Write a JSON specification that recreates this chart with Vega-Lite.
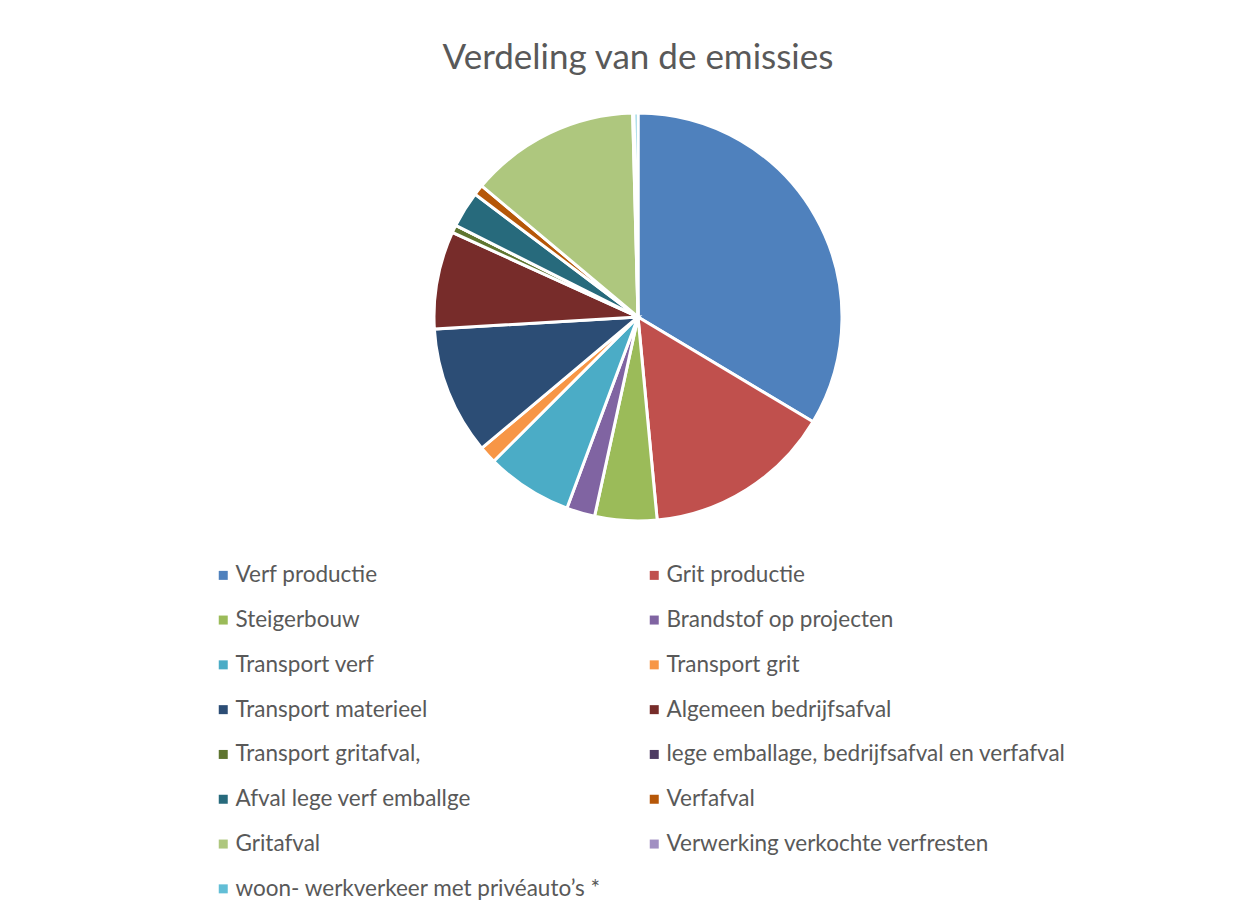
{
  "$schema": "https://vega.github.io/schema/vega-lite/v6.json",
  "width": 1236,
  "height": 434,
  "autosize": {"type": "none"},
  "padding": {"left": 20, "top": 100, "right": 0, "bottom": 382},
  "background": "white",
  "title": {
    "text": "Verdeling van de emissies",
    "font": "Lato",
    "fontSize": 35,
    "fontWeight": "normal",
    "color": "#595959",
    "anchor": "middle",
    "baseline": "bottom",
    "offset": -11
  },
  "data": {
    "values": [
      {"i": 1, "cat": "Verf productie", "v": 120.9},
      {"i": 2, "cat": "Grit productie", "v": 53.7},
      {"i": 3, "cat": "Steigerbouw", "v": 17.7},
      {"i": 4, "cat": "Brandstof op projecten", "v": 8.1},
      {"i": 5, "cat": "Transport verf", "v": 24.6},
      {"i": 6, "cat": "Transport grit", "v": 5.0},
      {"i": 7, "cat": "Transport materieel", "v": 36.6},
      {"i": 8, "cat": "Algemeen bedrijfsafval", "v": 27.9},
      {"i": 9, "cat": "Transport gritafval,", "v": 2.2},
      {"i": 10, "cat": "lege emballage, bedrijfsafval en  verfafval", "v": 0},
      {"i": 11, "cat": "Afval lege verf emballge", "v": 10.3},
      {"i": 12, "cat": "Verfafval", "v": 3.0},
      {"i": 13, "cat": "Gritafval", "v": 48.5},
      {"i": 14, "cat": "Verwerking verkochte verfresten", "v": 0.4},
      {"i": 15, "cat": "woon- werkverkeer met privéauto’s *", "v": 1.1}
    ]
  },
  "mark": {"type": "arc", "outerRadius": 204, "stroke": "white", "strokeWidth": 3},
  "encoding": {
    "theta": {"field": "v", "type": "quantitative", "stack": true},
    "order": {"field": "i", "type": "quantitative"},
    "color": {
      "field": "cat",
      "type": "nominal",
      "scale": {
        "domain": ["Verf productie", "Grit productie", "Steigerbouw", "Brandstof op projecten", "Transport verf", "Transport grit", "Transport materieel", "Algemeen bedrijfsafval", "Transport gritafval,", "lege emballage, bedrijfsafval en  verfafval", "Afval lege verf emballge", "Verfafval", "Gritafval", "Verwerking verkochte verfresten", "woon- werkverkeer met privéauto’s *"],
        "range": ["#4F81BD", "#C0504D", "#9BBB59", "#8064A2", "#4BACC6", "#F79646", "#2C4D75", "#772C2A", "#5F7530", "#4D3B62", "#276A7C", "#B65708", "#AEC77E", "#A18FC2", "#62BED6"]
      },
      "legend": {
        "title": null,
        "orient": "none",
        "direction": "horizontal",
        "legendX": 192,
        "legendY": 464,
        "columns": 2,
        "columnPadding": 42,
        "rowPadding": 21.8,
        "padding": 0,
        "symbolType": "square",
        "symbolSize": 81,
        "symbolStrokeWidth": 0,
        "labelFont": "Lato",
        "labelFontSize": 22.5,
        "labelColor": "#595959",
        "labelOffset": 1,
        "labelLimit": 600
      }
    }
  },
  "config": {"view": {"stroke": null}}
}
